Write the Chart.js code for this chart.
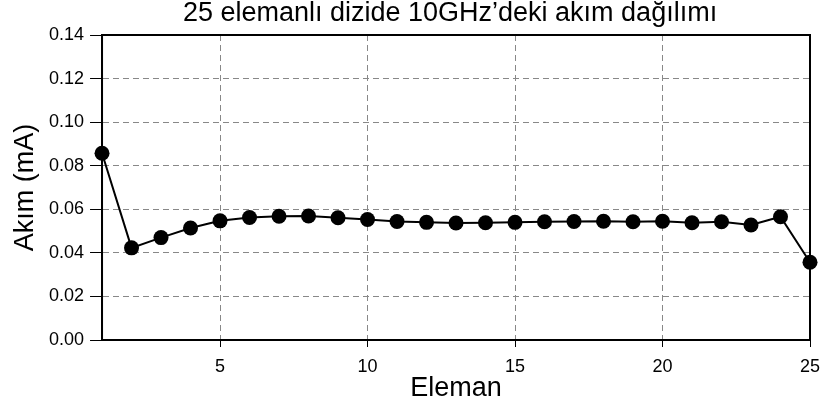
<!DOCTYPE html>
<html>
<head>
<meta charset="utf-8">
<script src="https://cdn.jsdelivr.net/npm/chart.js@4.4.1/dist/chart.umd.min.js"></script>
<style>
  html, body { margin: 0; padding: 0; background: #fff; }
  #wrap { width: 823px; height: 408px; }
</style>
</head>
<body>
<div id="wrap"><canvas id="c" width="823" height="408"></canvas></div>
<script>
const elements = [1,2,3,4,5,6,7,8,9,10,11,12,13,14,15,16,17,18,19,20,21,22,23,24,25];
const currents = [0.0857,0.0423,0.0470,0.0514,0.0547,0.0562,0.0568,0.0569,0.0561,0.0553,0.0544,0.0540,0.0537,0.0538,0.0540,0.0543,0.0544,0.0545,0.0543,0.0545,0.0538,0.0543,0.0528,0.0566,0.0357];
const xTicks = [5,10,15,20,25];
const yTicks = [0.00,0.02,0.04,0.06,0.08,0.10,0.12,0.14];

const FONT = "'Liberation Sans', Arial, sans-serif";

const framePlugin = {
  id: 'frame',
  afterLayout(chart) {
    // centre the title over the plot frame (including the y tick marks)
    const a = chart.chartArea;
    const tl = chart.scales.y.options.grid.tickLength;
    if (chart.titleBlock) {
      chart.titleBlock.left = a.left - tl;
      chart.titleBlock.right = a.right;
      chart.titleBlock.width = a.right - (a.left - tl);
    }
  },
  afterDraw(chart) {
    const {ctx, chartArea: a} = chart;
    ctx.save();
    ctx.strokeStyle = '#000';
    ctx.lineWidth = 2;
    ctx.setLineDash([]);
    ctx.strokeRect(a.left, a.top, a.right - a.left, a.bottom - a.top);
    ctx.restore();
  }
};

new Chart(document.getElementById('c'), {
  type: 'line',
  data: {
    datasets: [{
      data: elements.map((e, i) => ({x: e, y: currents[i]})),
      borderColor: '#000',
      backgroundColor: '#000',
      borderWidth: 2,
      pointRadius: 7.5,
      pointHoverRadius: 7.5,
      pointBackgroundColor: '#000',
      pointBorderWidth: 0,
      tension: 0,
      clip: false
    }]
  },
  options: {
    responsive: false,
    animation: false,
    devicePixelRatio: 1,
    layout: { padding: { left: 9, right: 13, top: 0, bottom: 0 } },
    plugins: {
      legend: { display: false },
      tooltip: { enabled: false },
      title: {
        display: true,
        text: '25 elemanlı dizide 10GHz\u2019deki akım dağılımı',
        color: '#000',
        font: { family: FONT, size: 27, weight: 'normal', lineHeight: 1.0 },
        padding: { top: 0, bottom: 8 }
      }
    },
    scales: {
      x: {
        type: 'linear',
        min: 1,
        max: 25,
        afterBuildTicks: (axis) => { axis.ticks = xTicks.map(v => ({value: v})); },
        ticks: {
          color: '#000',
          font: { family: FONT, size: 18, lineHeight: 1.0 },
          padding: 2,
          maxRotation: 0
        },
        grid: {
          color: '#888',
          lineWidth: 1,
          drawTicks: true,
          tickLength: 16.5,
          tickColor: '#000',
          tickWidth: 1,
          tickBorderDash: [6, 200]
        },
        border: { display: true, color: '#000', width: 2, dash: [6, 4] },
        title: {
          display: true,
          text: 'Eleman',
          color: '#000',
          font: { family: FONT, size: 27, lineHeight: 1.0 },
          padding: { top: -3, bottom: 5.5 }
        }
      },
      y: {
        type: 'linear',
        min: 0,
        max: 0.14,
        afterBuildTicks: (axis) => { axis.ticks = yTicks.map(v => ({value: v})); },
        ticks: {
          color: '#000',
          font: { family: FONT, size: 18 },
          padding: 6,
          callback: (v) => Number(v).toFixed(2)
        },
        grid: {
          color: '#888',
          lineWidth: 1,
          drawTicks: true,
          tickLength: 12,
          tickColor: '#000',
          tickWidth: 1
        },
        border: { display: true, color: '#000', width: 2, dash: [6, 4] },
        title: {
          display: true,
          text: 'Akım (mA)',
          color: '#000',
          font: { family: FONT, size: 27 },
          padding: { top: 0, bottom: 1.6 }
        }
      }
    }
  },
  plugins: [framePlugin]
});
</script>
</body>
</html>
